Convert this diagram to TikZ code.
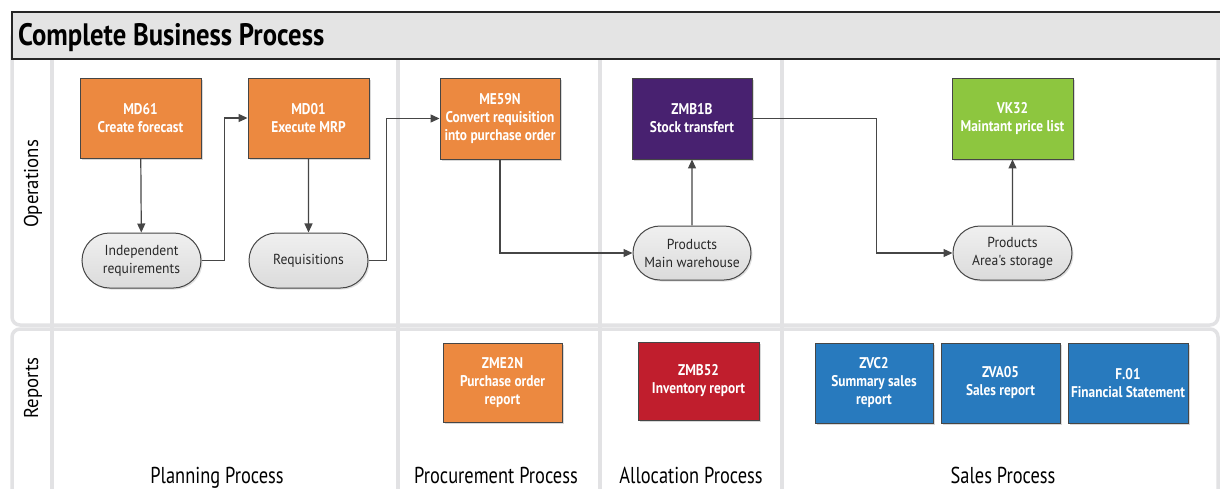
\documentclass[tikz,border=0pt]{standalone}
\usepackage{fontspec}
\setmainfont{PT Sans}
\newfontfamily\titlefont{PT Sans}[FakeStretch=0.86]
\newfontfamily\condfont{PT Sans}[FakeStretch=0.86]
\newfontfamily\pillfont{PT Sans}[FakeStretch=0.94]
\newfontfamily\colfont{PT Sans}[FakeStretch=0.8]
\usetikzlibrary{shapes.misc,shadows,arrows.meta}
\definecolor{orangebox}{RGB}{236,137,64}
\definecolor{purplebox}{RGB}{72,33,112}
\definecolor{greenbox}{RGB}{141,198,63}
\definecolor{redbox}{RGB}{192,30,45}
\definecolor{bluebox}{RGB}{40,122,190}
\definecolor{lanegray}{RGB}{226,226,228}
\definecolor{titlefill}{RGB}{228,228,228}
\definecolor{edgegray}{RGB}{70,70,70}
\definecolor{pilltext}{RGB}{40,40,40}
\tikzset{
  lane/.style={draw=lanegray,line width=3.5pt},
  boxnode/.style={rectangle,draw=edgegray,line width=0.9pt,text=white,align=center,
    inner sep=1pt,font=\condfont\bfseries\fontsize{15.5}{18}\selectfont,
    drop shadow={opacity=0.3,shadow xshift=1.5pt,shadow yshift=-1.5pt}},
  pill/.style={rounded rectangle,draw=edgegray,line width=1pt,top color=white!88!gray,
    bottom color=white!72!gray,text=pilltext,align=center,inner sep=1pt,
    font=\pillfont\fontsize{14.5}{18}\selectfont,
    drop shadow={opacity=0.25,shadow xshift=1.5pt,shadow yshift=-1.5pt}},
  conn/.style={draw=edgegray,line width=1.2pt,-{Triangle[length=9pt,width=8pt]}},
  lanelabel/.style={rotate=90,font=\pillfont\fontsize{20}{20}\selectfont,text=black},
  collabel/.style={anchor=base,font=\colfont\fontsize{23}{23}\selectfont,text=black}
}
\begin{document}
\begin{tikzpicture}[x=1pt,y=-1pt]
\useasboundingbox (0,0) rectangle (1220,488);
\clip (0,0) rectangle (1220,488);
\fill[white] (0,0) rectangle (1220,488);
% lanes
\draw[lane,rounded corners=8pt] (12,30) rectangle (1218,325);
\draw[lane,rounded corners=8pt] (12,329) rectangle (1218,530);
\foreach \xx in {52,398,600,782}{\draw[lane] (\xx,59) -- (\xx,490);}
% title bar
\fill[titlefill] (12,12) rectangle (1230,59);
\draw[black!85,line width=1.4pt] (1230,12) -- (12,12) -- (12,59) -- (1230,59);
\node[anchor=base west,inner sep=0pt,font=\titlefont\bfseries\fontsize{31}{31}\selectfont] (title) at (18,45) {Complete Business Process};
% lane labels
\node[lanelabel] (ops) at (33,184) {Operations};
\node[lanelabel] (rep) at (33,388) {Reports};
% operations boxes
\node[boxnode,fill=orangebox,minimum width=121pt,minimum height=80pt] (md61) at (140.5,118) {MD61\\Create forecast};
\node[boxnode,fill=orangebox,minimum width=121pt,minimum height=80pt] (md01) at (308.5,118) {MD01\\Execute MRP};
\node[boxnode,fill=orangebox,minimum width=120pt,minimum height=81pt] (me59n) at (500,118.5) {ME59N\\Convert requisition\\into purchase order};
\node[boxnode,fill=purplebox,minimum width=120pt,minimum height=81pt] (zmb1b) at (692,118.5) {ZMB1B\\Stock transfert};
\node[boxnode,fill=greenbox,minimum width=121pt,minimum height=81pt] (vk32) at (1012.5,118.5) {VK32\\Maintant price list};
% pills
\node[pill,minimum width=121pt,minimum height=55pt] (ir) at (141.5,260.5) {Independent\\requirements};
\node[pill,minimum width=121pt,minimum height=55pt] (req) at (308.5,260.5) {Requisitions};
\node[pill,minimum width=120pt,minimum height=54pt] (pmw) at (692,253) {Products\\Main warehouse};
\node[pill,minimum width=121pt,minimum height=54pt] (pas) at (1012.5,253) {Products\\Area's storage};
% reports
\node[boxnode,fill=orangebox,minimum width=119pt,minimum height=79pt] (zme2n) at (502.5,382.5) {ZME2N\\Purchase order\\report};
\node[boxnode,fill=redbox,minimum width=121pt,minimum height=78pt] (zmb52) at (698.5,381) {ZMB52\\Inventory report};
\node[boxnode,fill=bluebox,minimum width=118pt,minimum height=80pt] (zvc2) at (874,383) {ZVC2\\Summary sales\\report};
\node[boxnode,fill=bluebox,minimum width=119pt,minimum height=80pt] (zva05) at (1000.5,383) {ZVA05\\Sales report};
\node[boxnode,fill=bluebox,minimum width=120pt,minimum height=80pt] (f01) at (1128,383) {F.01\\Financial Statement};
% connectors
\draw[conn] (md61) -- (ir);
\draw[conn] (ir.east) -- ++(23,0) |- (md01.west);
\draw[conn] (md01) -- (req);
\draw[conn] (req.east) -- ++(18,0) |- (me59n.west);
\draw[conn] (me59n.south) |- (pmw.west);
\draw[conn] (pmw) -- (zmb1b);
\draw[conn] (zmb1b.east) -- ++(124,0) |- (pas.west);
\draw[conn] (pas) -- (vk32);
% column labels
\node[collabel] (plan) at (217,483) {Planning Process};
\node[collabel] (proc) at (496,483) {Procurement Process};
\node[collabel] (alloc) at (691,483) {Allocation Process};
\node[collabel] (sales) at (1003,483) {Sales Process};
\end{tikzpicture}
\end{document}
